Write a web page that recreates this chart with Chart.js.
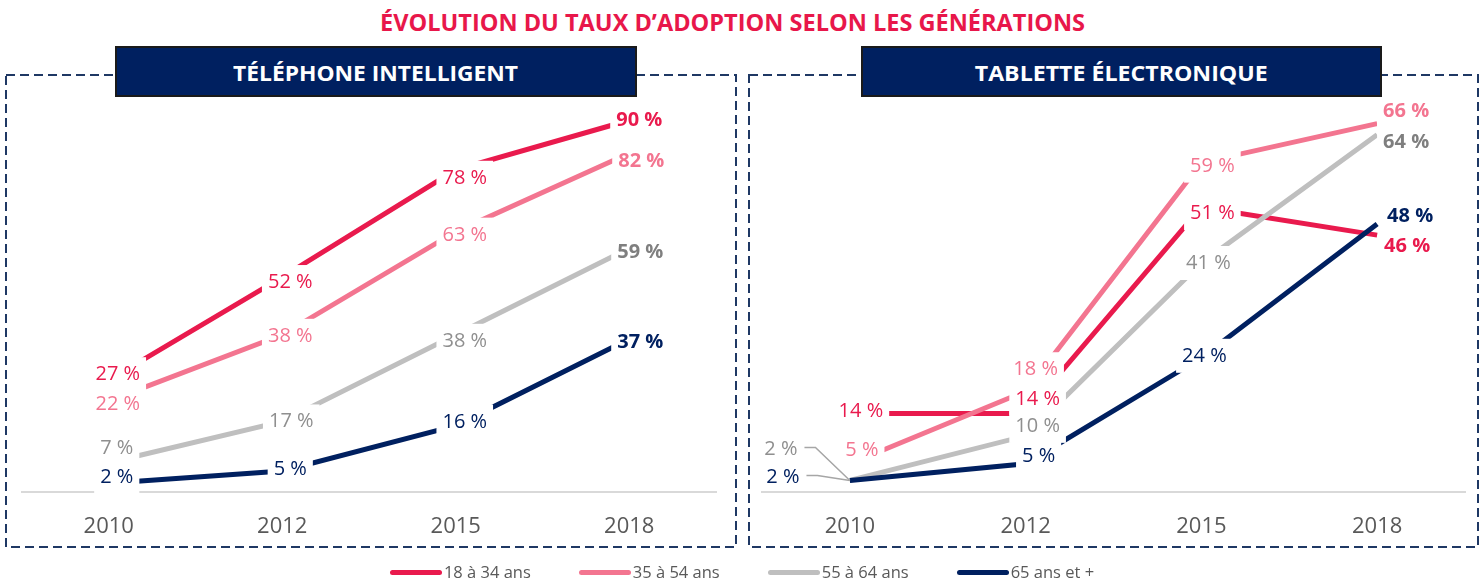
<!DOCTYPE html>
<html>
<head>
<meta charset="utf-8">
<script src="https://cdn.jsdelivr.net/npm/chart.js@4.4.1/dist/chart.umd.min.js"></script>
<style>
  html, body { margin: 0; padding: 0; background: #fff; }
  body { width: 1484px; height: 582px; position: relative; overflow: hidden; font-family: "Open Sans", "Noto Sans", sans-serif; }
  #mainTitle { position: absolute; left: 380px; top: 11px; font-weight: bold; font-size: 23px; line-height: 23px; color: #E8174A; white-space: nowrap; transform-origin: 0 0; }
  svg#frames { position: absolute; left: 0; top: 0; }
  .panelTitle { position: absolute; top: 46px; height: 51px; box-sizing: border-box; background: #002060; border: 2px solid #1a1a1a; display: flex; align-items: center; justify-content: center; z-index: 5; }
  .panelTitle span { color: #fff; font-weight: bold; font-size: 22px; white-space: nowrap; display: inline-block; }
  canvas { position: absolute; }
  #legend { position: absolute; top: 561px; left: 0; width: 1484px; display: flex; justify-content: center; gap: 48px; font-size: 16.5px; line-height: 22px; color: #595959; }
  #legend .item { display: flex; align-items: center; }
  #legend .swatch { width: 52px; height: 5px; border-radius: 3px; margin-right: 2px; }
</style>
</head>
<body>
<div id="mainTitle"></div>
<svg id="frames" width="1484" height="582">
  <rect x="6" y="75" width="730" height="472" fill="none" stroke="#1F3864" stroke-width="2" stroke-dasharray="9 5"/>
  <rect x="749" y="75" width="729" height="472" fill="none" stroke="#1F3864" stroke-width="2" stroke-dasharray="9 5"/>
</svg>
<div class="panelTitle" id="pt0" style="left:115px;width:522px;"><span></span></div>
<div class="panelTitle" id="pt1" style="left:861px;width:521px;"><span></span></div>
<canvas id="phoneChart" width="730" height="487" style="left:6px;top:75px;width:730px;height:487px;"></canvas>
<canvas id="tabletChart" width="730" height="487" style="left:749px;top:75px;width:730px;height:487px;"></canvas>
<div id="legend"></div>

<script>
// ---- Data ----
const chartTitle = 'ÉVOLUTION DU TAUX D’ADOPTION SELON LES GÉNÉRATIONS';
const panelTitles = ['TÉLÉPHONE INTELLIGENT', 'TABLETTE ÉLECTRONIQUE'];
const years = ['2010', '2012', '2015', '2018'];
const seriesNames = ['18 à 34 ans', '35 à 54 ans', '55 à 64 ans', '65 ans et +'];

const phoneAge18to34 = [27, 52, 78, 90];
const phoneAge35to54 = [22, 38, 63, 82];
const phoneAge55to64 = [7, 17, 38, 59];
const phoneAge65plus = [2, 5, 16, 37];

const tabletAge18to34 = [14, 14, 51, 46];
const tabletAge35to54 = [5, 18, 59, 66];
const tabletAge55to64 = [2, 10, 41, 64];
const tabletAge65plus = [2, 5, 24, 48];

// ---- Styles ----
const lineColors = ['#E91A4D', '#F37590', '#BFBFBF', '#002060'];
const labelColors = ['#E91A4D', '#F37590', '#8F8F8F', '#002060'];
const labelBoldColors = ['#E91A4D', '#F37590', '#7F7F7F', '#002060'];

// label offsets relative to each point: [dx, dy, leader]
const phoneLabelOffsets = [
  [[9, -7], [8, 4], [9, 7], [10, -1]],
  [[9, 2], [8, 0], [9, 2], [12, 7]],
  [[8, -16], [9, -1], [9, 5], [11, 3]],
  [[8, -7], [8, -3], [9, -5], [11, 2]]
];
const tabletLabelOffsets = [
  [[11, -4], [12, -16], [11, 5], [30, 10]],
  [[12, -15], [10, -23], [11, 2], [29, -14]],
  [[-69, -32, true], [12, -11], [7, -1], [29, 6]],
  [[-67, -4, true], [13, -9], [3, -3], [33, -9]]
];

const labelPlugin = {
  id: 'pctLabels',
  afterDatasetsDraw(chart, args, opts) {
    const ctx = chart.ctx;
    ctx.save();
    const items = [];
    chart.data.datasets.forEach((ds, di) => {
      const meta = chart.getDatasetMeta(di);
      meta.data.forEach((pt, i) => {
        const off = opts.offsets[di][i];
        const bold = i === ds.data.length - 1;
        const text = ds.data[i] + '\u00a0%';
        ctx.font = (bold ? 'bold ' : '') + '20px "Open Sans"';
        const w = ctx.measureText(text).width;
        items.push({ di, bold, text, w, cx: pt.x + off[0], cy: pt.y + off[1], px: pt.x, py: pt.y, leader: !!off[2] });
      });
    });
    // leaders
    ctx.strokeStyle = '#A6A6A6';
    ctx.lineWidth = 1.5;
    items.filter(it => it.leader).forEach(it => {
      const sx = it.cx + it.w / 2 + 7;
      ctx.beginPath();
      ctx.moveTo(sx, it.cy - 1);
      ctx.lineTo(sx + 11, it.cy - 1);
      ctx.lineTo(it.px, it.py);
      ctx.stroke();
    });
    // boxes
    ctx.fillStyle = '#ffffff';
    items.forEach(it => {
      if (!it.leader) ctx.fillRect(it.cx - it.w / 2 - 6, it.cy - 16, it.w + 12, 34);
    });
    // texts
    ctx.textAlign = 'center';
    ctx.textBaseline = 'alphabetic';
    items.forEach(it => {
      ctx.font = (it.bold ? 'bold ' : '') + '20px "Open Sans"';
      ctx.fillStyle = it.bold ? labelBoldColors[it.di] : labelColors[it.di];
      ctx.fillText(it.text, it.cx, it.cy + 7);
    });
    ctx.restore();
  }
};

function makeDatasets(seriesList) {
  return seriesList.map((values, i) => ({
    label: seriesNames[i],
    data: values,
    borderColor: lineColors[i],
    backgroundColor: lineColors[i],
    borderWidth: 5,
    pointRadius: 0,
    pointHoverRadius: 0,
    tension: 0,
    fill: false,
    clip: false,
    borderCapStyle: 'butt',
    order: 3 - i
  }));
}

function makeChart(canvasId, seriesList, yMax, padding, offsets) {
  return new Chart(document.getElementById(canvasId), {
    type: 'line',
    data: { labels: years, datasets: makeDatasets(seriesList) },
    options: {
      responsive: false,
      animation: false,
      devicePixelRatio: 1,
      layout: { padding: padding },
      plugins: {
        legend: { display: false },
        tooltip: { enabled: false },
        pctLabels: { offsets: offsets }
      },
      scales: {
        x: {
          type: 'category',
          offset: true,
          z: 1,
          grid: { display: false, drawTicks: false },
          border: { display: true, color: '#D9D9D9', width: 2 },
          ticks: { color: '#595959', font: { family: '"Open Sans"', size: 22 }, padding: 22, maxRotation: 0 }
        },
        y: {
          display: false,
          min: 0,
          max: yMax
        }
      }
    },
    plugins: [labelPlugin]
  });
}

makeChart('phoneChart',
  [phoneAge18to34, phoneAge35to54, phoneAge55to64, phoneAge65plus],
  100, { left: 16, right: 20, top: 4, bottom: 0 }, phoneLabelOffsets);
makeChart('tabletChart',
  [tabletAge18to34, tabletAge35to54, tabletAge55to64, tabletAge65plus],
  74, { left: 13, right: 14, top: 4, bottom: 0 }, tabletLabelOffsets);

// titles
function fitWidth(el, target) {
  const w = el.getBoundingClientRect().width;
  if (w > 0) {
    const s = Math.max(0.8, Math.min(1.25, target / w));
    el.style.transform = 'scaleX(' + s + ')';
  }
}
const mt = document.getElementById('mainTitle');
mt.textContent = chartTitle;
fitWidth(mt, 705);
const pt0 = document.querySelector('#pt0 span');
const pt1 = document.querySelector('#pt1 span');
pt0.textContent = panelTitles[0];
pt1.textContent = panelTitles[1];
fitWidth(pt0, 285);
fitWidth(pt1, 293);

// legend
const legend = document.getElementById('legend');
seriesNames.forEach((name, i) => {
  const item = document.createElement('div');
  item.className = 'item';
  const sw = document.createElement('span');
  sw.className = 'swatch';
  sw.style.background = lineColors[i];
  const tx = document.createElement('span');
  tx.textContent = name;
  item.appendChild(sw);
  item.appendChild(tx);
  legend.appendChild(item);
});
</script>
</body>
</html>
